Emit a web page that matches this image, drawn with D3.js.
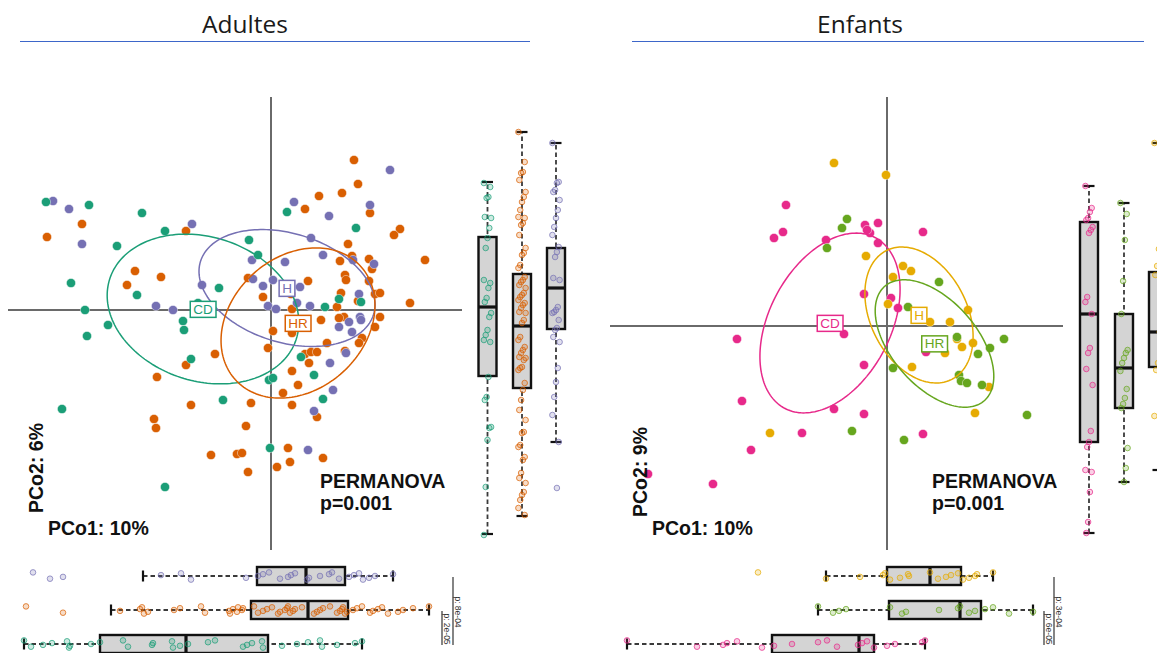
<!DOCTYPE html>
<html>
<head>
<meta charset="utf-8">
<script src="https://cdn.jsdelivr.net/npm/d3@7"></script>
<style>
  html, body { margin: 0; padding: 0; background: #ffffff; }
  svg { display: block; }
</style>
</head>
<body>
<svg id="chart" width="1157" height="653"></svg>
<script>
// ---------------- data ----------------
const panelTitles = ["Adultes", "Enfants"];
const axisLabelsAdult = ["PCo1: 10%", "PCo2: 6%"];
const axisLabelsChild = ["PCo1: 10%", "PCo2: 9%"];
const permanovaText = ["PERMANOVA", "p=0.001"];

// PCoA coordinates [PCo1, PCo2] — adults
const adultCD = [
  [-0.225,0.108],[-0.182,0.105],[-0.129,0.097],[-0.106,0.079],[-0.154,0.064],[-0.200,0.027],
  [-0.134,0.015],[-0.052,0.022],[-0.073,0.007],[-0.186,0.000],[0.016,0.098],[0.085,0.082],
  [-0.022,0.070],[-0.013,0.055],[0.054,0.003],[0.068,0.011],[0.090,0.008],[-0.163,-0.015],
  [-0.184,-0.026],[-0.088,-0.011],[-0.087,-0.020],[-0.080,-0.049],[-0.048,-0.090],[-0.209,-0.099],
  [-0.106,-0.177],[0.030,-0.047],[0.043,-0.065],[-0.002,-0.070],[0.002,-0.068],[0.052,-0.089],
  [-0.001,-0.138]
];
const adultH = [
  [-0.218,0.109],[-0.202,0.101],[-0.189,0.066],[-0.079,0.086],[-0.069,0.025],[-0.115,0.004],
  [-0.098,0.000],[0.119,0.140],[0.023,0.108],[0.058,0.094],[0.099,0.105],[0.040,0.072],
  [0.052,0.055],[-0.019,0.050],[0.014,0.048],[0.082,0.050],[0.103,0.046],[-0.018,0.031],
  [-0.008,0.024],[0.002,0.030],[0.029,0.023],[0.026,0.007],[0.039,0.004],[0.088,0.016],
  [-0.003,0.004],[0.005,0.001],[0.078,-0.012],[0.089,-0.007],[0.090,-0.010],[0.068,-0.017],
  [0.081,-0.022],[0.075,-0.043],[0.059,-0.053],[0.062,-0.080],[0.043,-0.101],[0.037,-0.140]
];
const adultHR = [
  [-0.189,0.086],[-0.224,0.073],[-0.085,0.079],[-0.136,0.039],[-0.110,0.033],[-0.144,0.025],
  [0.083,0.150],[0.087,0.126],[0.048,0.114],[0.071,0.117],[0.034,0.101],[0.099,0.097],
  [0.129,0.081],[0.123,0.075],[0.154,0.050],[0.077,0.066],[0.081,0.054],[0.069,0.049],
  [0.098,0.051],[0.101,0.041],[0.074,0.035],[0.075,0.030],[-0.023,0.032],[0.037,0.029],
  [0.098,0.029],[-0.008,0.013],[0.020,0.016],[0.066,0.003],[0.070,0.017],[0.087,0.009],
  [0.104,0.016],[0.109,0.017],[0.139,0.007],[0.021,0.001],[0.050,-0.010],[0.073,-0.007],
  [0.109,-0.007],[0.068,-0.008],[0.104,-0.017],[0.002,-0.021],[0.021,-0.023],[-0.003,-0.038],
  [0.056,-0.033],[0.091,-0.028],[0.088,-0.033],[0.074,-0.041],[0.034,-0.044],[0.040,-0.042],
  [0.046,-0.042],[0.038,-0.053],[0.021,-0.061],[0.027,-0.075],[0.012,-0.083],[-0.020,-0.093],
  [0.021,-0.095],[0.046,-0.107],[-0.025,-0.116],[0.017,-0.138],[0.052,-0.148],[-0.034,-0.144],
  [-0.029,-0.143],[0.019,-0.152],[0.006,-0.157],[-0.023,-0.162],[-0.085,-0.055],[-0.056,-0.044],
  [-0.114,-0.067],[-0.080,-0.095],[-0.117,-0.109],[-0.115,-0.118],[-0.060,-0.145]
];

// PCoA coordinates [PCo1, PCo2] — children
const childCD = [
  [-0.101,0.121],[-0.104,0.094],[-0.113,0.088],[-0.061,0.086],[-0.150,-0.013],[-0.043,-0.008],
  [-0.022,0.101],[-0.017,0.093],[-0.009,0.103],[-0.020,0.096],[0.036,0.094],[-0.009,0.083],
  [-0.023,0.032],[0.004,0.028],[0.011,0.018],[0.039,-0.026],[-0.023,-0.039],[-0.023,-0.088],
  [0.036,-0.108],[-0.145,-0.075],[-0.053,-0.083],[-0.085,-0.107],[-0.136,-0.124],[-0.239,-0.148],
  [-0.174,-0.158]
];
const childH = [
  [-0.053,0.163],[-0.001,0.151],[-0.021,0.070],[0.016,0.060],[0.024,0.055],[0.006,0.049],
  [0.001,0.022],[0.081,0.016],[0.043,0.004],[0.063,0.004],[0.070,-0.013],[0.075,-0.021],
  [0.086,-0.017],[0.058,-0.027],[0.025,-0.041],[0.102,-0.061],[0.088,-0.087],[-0.117,-0.107]
];
const childHR = [
  [-0.040,0.107],[-0.045,0.098],[-0.060,0.078],[0.052,0.044],[0.021,0.019],[0.070,-0.011],
  [0.091,-0.028],[0.103,-0.022],[0.117,-0.013],[0.006,-0.042],[0.072,-0.049],[0.074,-0.055],
  [0.080,-0.057],[0.095,-0.059],[0.140,-0.089],[-0.035,-0.105],[0.017,-0.114]
];

// 95% group ellipses: centre, semi-axes and rotation (degrees)
const adultEllipses = [
  { group: "CD", cx: -0.068, cy: 0.001,  a: 0.098,  b: 0.072,  angle: -18 },
  { group: "H",  cx: 0.016,  cy: 0.022,  a: 0.0905, b: 0.0545, angle: -17 },
  { group: "HR", cx: 0.027,  cy: -0.013, a: 0.0845, b: 0.0665, angle: 42 }
];
const childEllipses = [
  { group: "CD", cx: -0.057, cy: 0.003,   a: 0.0966, b: 0.0605, angle: 62 },
  { group: "H",  cx: 0.032,  cy: 0.011,   a: 0.0722, b: 0.0483, angle: -63 },
  { group: "HR", cx: 0.0475, cy: -0.0175, a: 0.0758, b: 0.0428, angle: -49 }
];

// Marginal box plots: [lower whisker, Q1, median, Q3, upper whisker]
const adultPCo2Box = { CD: [-0.224,-0.066,0.003,0.073,0.128], HR: [-0.206,-0.078,-0.016,0.036,0.178], H: [-0.132,-0.019,0.022,0.062,0.167] };
const adultPCo2Strip = {
  CD: [0.127,0.123,0.113,0.112,0.093,0.092,0.082,0.072,0.062,0.030,0.027,0.022,0.012,0.008,-0.003,-0.007,-0.020,-0.025,-0.030,-0.032,-0.067,-0.087,-0.090,-0.117,-0.118,-0.130,-0.177,-0.225],
  HR: [0.178,0.148,0.138,0.137,0.130,0.118,0.113,0.108,0.100,0.093,0.092,0.087,0.085,0.075,0.062,0.057,0.055,0.045,0.042,0.033,0.030,0.028,0.025,0.022,0.017,0.015,0.013,0.010,0.007,0.005,0.002,-0.002,-0.003,-0.010,-0.013,-0.027,-0.030,-0.037,-0.040,-0.043,-0.047,-0.048,-0.050,-0.057,-0.058,-0.060,-0.073,-0.080,-0.090,-0.100,-0.110,-0.122,-0.123,-0.135,-0.137,-0.147,-0.150,-0.163,-0.168,-0.173,-0.182,-0.185,-0.190,-0.198,-0.205],
  H: [0.167,0.128,0.127,0.120,0.118,0.110,0.100,0.092,0.083,0.075,0.063,0.058,0.053,0.032,0.030,0.003,0.000,-0.002,-0.003,-0.010,-0.018,-0.020,-0.027,-0.032,-0.058,-0.072,-0.087,-0.105,-0.132,-0.178]
};
const adultPCo1Box = { H: [-0.128,-0.014,0.035,0.074,0.122], HR: [-0.160,-0.020,0.037,0.077,0.158], CD: [-0.247,-0.171,-0.085,-0.003,0.091] };
const adultPCo1Strip = {
  H: [-0.238,-0.221,-0.208,-0.110,-0.090,-0.080,-0.025,-0.013,-0.008,-0.002,0.009,0.017,0.020,0.024,0.036,0.038,0.049,0.058,0.061,0.068,0.078,0.083,0.088,0.092,0.098,0.104,0.122],
  HR: [-0.245,-0.208,-0.151,-0.131,-0.129,-0.127,-0.123,-0.097,-0.091,-0.070,-0.066,-0.042,-0.038,-0.033,-0.041,-0.034,-0.029,-0.028,-0.017,-0.013,-0.008,-0.004,0.001,0.007,0.009,0.014,0.016,0.017,0.019,0.022,0.024,0.031,0.043,0.046,0.049,0.052,0.059,0.066,0.069,0.071,0.072,0.074,0.076,0.082,0.086,0.091,0.099,0.102,0.107,0.111,0.117,0.127,0.132,0.142,0.158],
  CD: [-0.247,-0.240,-0.228,-0.219,-0.204,-0.202,-0.201,-0.180,-0.171,-0.148,-0.143,-0.119,-0.118,-0.099,-0.098,-0.091,-0.083,-0.063,-0.056,-0.028,-0.024,-0.019,-0.009,-0.008,0.011,0.026,0.037,0.049,0.051,0.066,0.084,0.091]
};
const adultPCo1Tests = [ { label: "p: 8e-04", from: "H", to: "CD" }, { label: "p: 2e-05", from: "HR", to: "CD" } ];

const childPCo2Box = { CD: [-0.207,-0.116,0.012,0.104,0.140], HR: [-0.156,-0.082,-0.042,0.012,0.123], H: [-0.144,-0.041,-0.006,0.054,0.183] };
const childPCo2Strip = {
  CD: [0.140,0.118,0.114,0.108,0.106,0.099,0.096,0.093,0.029,0.024,0.012,-0.022,-0.027,-0.043,-0.059,-0.105,-0.116,-0.121,-0.144,-0.146,-0.166,-0.196,-0.207],
  HR: [0.123,0.112,0.086,0.045,0.012,-0.024,-0.027,-0.032,-0.037,-0.045,-0.063,-0.072,-0.078,-0.082,-0.122,-0.142,-0.156],
  H: [0.183,0.150,0.077,0.060,0.051,0.020,-0.006,-0.037,-0.044,-0.090,-0.144]
};
const childPCo1Box = { H: [-0.061,0.000,0.043,0.074,0.106], HR: [-0.069,0.002,0.073,0.094,0.146], CD: [-0.260,-0.115,-0.028,-0.013,0.038] };
const childPCo1Strip = {
  H: [-0.129,-0.061,-0.027,-0.004,-0.002,0.003,0.013,0.022,0.021,0.043,0.051,0.059,0.064,0.071,0.076,0.082,0.088,0.090,0.106],
  HR: [-0.069,-0.054,-0.048,-0.041,0.003,0.015,0.019,0.052,0.071,0.073,0.082,0.088,0.098,0.106,0.122,0.146],
  CD: [-0.260,-0.190,-0.164,-0.160,-0.150,-0.125,-0.113,-0.095,-0.069,-0.060,-0.050,-0.029,-0.025,-0.020,-0.013,0.000,0.008,0.035,0.038]
};
const childPCo1Tests = [ { label: "p: 3e-04", from: "H", to: "CD" }, { label: "p: 6e-05", from: "HR", to: "CD" } ];

// ---------------- drawing ----------------
const FONT = "'Liberation Sans', Arial, Helvetica, sans-serif";
const svg = d3.select("#chart");

// deterministic small horizontal/vertical spread for strip points
const spread = i => (((i * 7) % 9) - 4) * 0.9;

function drawPanel(P) {
  const g = svg.append("g");
  const x = P.x, y = P.y;
  const x0 = x(0), y0 = y(0);

  // title with rule beneath
  g.append("text").attr("x", P.titleX).attr("y", 33).attr("text-anchor", "middle")
    .attr("font-family", "'Open Sans', 'Noto Sans', sans-serif").attr("font-size", 24.5).attr("fill", "#1a1a1a")
    .text(P.title);
  g.append("line").attr("x1", P.ruleX[0]).attr("x2", P.ruleX[1]).attr("y1", 41.5).attr("y2", 41.5)
    .attr("stroke", "#3d66c9").attr("stroke-width", 1);

  // zero axes
  const axisColor = "#6a6a6a";
  g.append("line").attr("x1", x.range()[0]).attr("x2", x.range()[1]).attr("y1", y0).attr("y2", y0)
    .attr("stroke", axisColor).attr("stroke-width", 2);
  g.append("line").attr("x1", x0).attr("x2", x0).attr("y1", y.range()[1]).attr("y2", y.range()[0])
    .attr("stroke", axisColor).attr("stroke-width", 2);

  // scatter points
  P.series.forEach(s => {
    g.append("g").selectAll("circle").data(s.values).join("circle")
      .attr("cx", d => x(d[0])).attr("cy", d => y(d[1])).attr("r", 4.6)
      .attr("fill", P.colors[s.group]).attr("stroke", "#ffffff").attr("stroke-opacity", 0.55).attr("stroke-width", 0.8);
  });

  // ellipses
  const line = d3.line().x(p => x(p[0])).y(p => y(p[1])).curve(d3.curveLinearClosed);
  P.ellipses.forEach(e => {
    const phi = e.angle * Math.PI / 180;
    const pts = d3.range(0, 2 * Math.PI, Math.PI / 90).map(t => {
      const dx = e.a * Math.cos(t), dy = e.b * Math.sin(t);
      return [e.cx + dx * Math.cos(phi) - dy * Math.sin(phi), e.cy + dx * Math.sin(phi) + dy * Math.cos(phi)];
    });
    g.append("path").attr("d", line(pts)).attr("fill", "none")
      .attr("stroke", P.colors[e.group]).attr("stroke-width", 1.5);
  });

  // group labels at ellipse centres
  P.ellipses.forEach(e => {
    const lg = g.append("g");
    const t = lg.append("text").attr("x", x(e.cx)).attr("y", y(e.cy)).attr("dy", "0.36em")
      .attr("text-anchor", "middle").attr("font-family", FONT).attr("font-size", 13.5)
      .attr("fill", P.colors[e.group]).text(e.group);
    const bb = t.node().getBBox();
    lg.insert("rect", "text").attr("x", bb.x - 3).attr("y", bb.y - 0.5).attr("width", bb.width + 6).attr("height", bb.height + 1)
      .attr("fill", "#ffffff").attr("stroke", P.colors[e.group]).attr("stroke-width", 1.5);
  });

  // axis captions and test result
  g.append("text").attr("transform", `translate(${P.pco2Pos[0]},${P.pco2Pos[1]}) rotate(-90)`)
    .attr("text-anchor", "middle").attr("font-family", FONT).attr("font-weight", "bold").attr("font-size", 19.5)
    .attr("fill", "#111").text(P.axisLabels[1]);
  g.append("text").attr("x", P.pco1Pos[0]).attr("y", P.pco1Pos[1])
    .attr("font-family", FONT).attr("font-weight", "bold").attr("font-size", 19.5)
    .attr("fill", "#111").text(P.axisLabels[0]);
  permanovaText.forEach((s, i) => {
    g.append("text").attr("x", P.permPos[0]).attr("y", P.permPos[1] + i * 22)
      .attr("font-family", FONT).attr("font-weight", "bold").attr("font-size", 19.5)
      .attr("fill", "#111").text(s);
  });

  // vertical marginal box plots (PCo2)
  const boxW = 18, capW = 11;
  const whisk = { stroke: "#3a3a3a", width: 1.8, dash: "4.5,3" };
  P.vOrder.forEach((grp, i) => {
    const cx = P.vBoxX[i];
    const [lo, q1, med, q3, hi] = P.pco2Box[grp];
    const bg = g.append("g");
    bg.append("line").attr("x1", cx).attr("x2", cx).attr("y1", y(lo)).attr("y2", y(hi))
      .attr("stroke", whisk.stroke).attr("stroke-width", whisk.width).attr("stroke-dasharray", whisk.dash);
    [lo, hi].forEach(v => bg.append("line").attr("x1", cx - capW / 2).attr("x2", cx + capW / 2)
      .attr("y1", y(v)).attr("y2", y(v)).attr("stroke", "#111").attr("stroke-width", 2.2));
    bg.append("rect").attr("x", cx - boxW / 2).attr("y", y(q3)).attr("width", boxW).attr("height", y(q1) - y(q3))
      .attr("fill", "#d4d4d4").attr("stroke", "#111").attr("stroke-width", 2.4);
    bg.append("line").attr("x1", cx - boxW / 2).attr("x2", cx + boxW / 2).attr("y1", y(med)).attr("y2", y(med))
      .attr("stroke", "#111").attr("stroke-width", 3.2);
    bg.selectAll("circle").data(P.pco2Strip[grp]).join("circle")
      .attr("cx", (d, j) => cx + spread(j)).attr("cy", d => y(d)).attr("r", 2.8)
      .attr("fill", P.colors[grp]).attr("fill-opacity", 0.22)
      .attr("stroke", P.colors[grp]).attr("stroke-opacity", 0.7).attr("stroke-width", 1);
  });

  // horizontal marginal box plots (PCo1)
  const rowY = {};
  P.hOrder.forEach((grp, i) => {
    const cy = P.hBoxY[i];
    rowY[grp] = cy;
    const [lo, q1, med, q3, hi] = P.pco1Box[grp];
    const bg = g.append("g");
    bg.append("line").attr("y1", cy).attr("y2", cy).attr("x1", x(lo)).attr("x2", x(hi))
      .attr("stroke", whisk.stroke).attr("stroke-width", whisk.width).attr("stroke-dasharray", whisk.dash);
    [lo, hi].forEach(v => bg.append("line").attr("y1", cy - capW / 2).attr("y2", cy + capW / 2)
      .attr("x1", x(v)).attr("x2", x(v)).attr("stroke", "#111").attr("stroke-width", 2.2));
    bg.append("rect").attr("y", cy - boxW / 2).attr("x", x(q1)).attr("height", boxW).attr("width", x(q3) - x(q1))
      .attr("fill", "#d4d4d4").attr("stroke", "#111").attr("stroke-width", 2.4);
    bg.append("line").attr("y1", cy - boxW / 2).attr("y2", cy + boxW / 2).attr("x1", x(med)).attr("x2", x(med))
      .attr("stroke", "#111").attr("stroke-width", 3.2);
    bg.selectAll("circle").data(P.pco1Strip[grp]).join("circle")
      .attr("cy", (d, j) => cy + spread(j)).attr("cx", d => x(d)).attr("r", 2.8)
      .attr("fill", P.colors[grp]).attr("fill-opacity", 0.22)
      .attr("stroke", P.colors[grp]).attr("stroke-opacity", 0.7).attr("stroke-width", 1);
  });

  // pairwise test brackets beside the PCo1 box plots
  P.pco1Tests.forEach((t, i) => {
    const bx = P.testX[i];
    const y1 = rowY[t.from], y2 = rowY[t.to];
    g.append("line").attr("x1", bx).attr("x2", bx).attr("y1", y1 + 1).attr("y2", y2 + 1)
      .attr("stroke", "#333").attr("stroke-width", 1.2);
    g.append("text").attr("transform", `translate(${bx + 2},${(y1 + y2) / 2 + 2}) rotate(90)`)
      .attr("text-anchor", "middle").attr("font-family", FONT).attr("font-size", 8.5)
      .attr("fill", "#333").text(t.label);
  });
}

const adultColors = { CD: "#1b9e77", H: "#7570b3", HR: "#d95f02" };
const childColors = { CD: "#e7298a", H: "#e6ab02", HR: "#66a61e" };

drawPanel({
  title: panelTitles[0], titleX: 245, ruleX: [20, 530],
  x: d3.scaleLinear().domain([-0.263, 0.191]).range([8, 462]),
  y: d3.scaleLinear().domain([-0.240, 0.213]).range([550, 97]),
  colors: adultColors,
  series: [ { group: "HR", values: adultHR }, { group: "H", values: adultH }, { group: "CD", values: adultCD } ],
  ellipses: adultEllipses,
  axisLabels: axisLabelsAdult, pco2Pos: [43, 468], pco1Pos: [48, 535], permPos: [320, 488],
  vOrder: ["CD", "HR", "H"], vBoxX: [487.5, 522, 556], pco2Box: adultPCo2Box, pco2Strip: adultPCo2Strip,
  hOrder: ["H", "HR", "CD"], hBoxY: [576, 610, 644], pco1Box: adultPCo1Box, pco1Strip: adultPCo1Strip,
  pco1Tests: adultPCo1Tests, testX: [453, 442]
});

drawPanel({
  title: panelTitles[1], titleX: 860, ruleX: [632, 1144],
  x: d3.scaleLinear().domain([-0.277, 0.176]).range([610, 1063]),
  y: d3.scaleLinear().domain([-0.224, 0.229]).range([550, 97]),
  colors: childColors,
  series: [ { group: "CD", values: childCD }, { group: "H", values: childH }, { group: "HR", values: childHR } ],
  ellipses: childEllipses,
  axisLabels: axisLabelsChild, pco2Pos: [647, 472], pco1Pos: [652, 535], permPos: [932, 488],
  vOrder: ["CD", "HR", "H"], vBoxX: [1089, 1124, 1158], pco2Box: childPCo2Box, pco2Strip: childPCo2Strip,
  hOrder: ["H", "HR", "CD"], hBoxY: [576, 610, 644], pco1Box: childPCo1Box, pco1Strip: childPCo1Strip,
  pco1Tests: childPCo1Tests, testX: [1054, 1044]
});
</script>
</body>
</html>
